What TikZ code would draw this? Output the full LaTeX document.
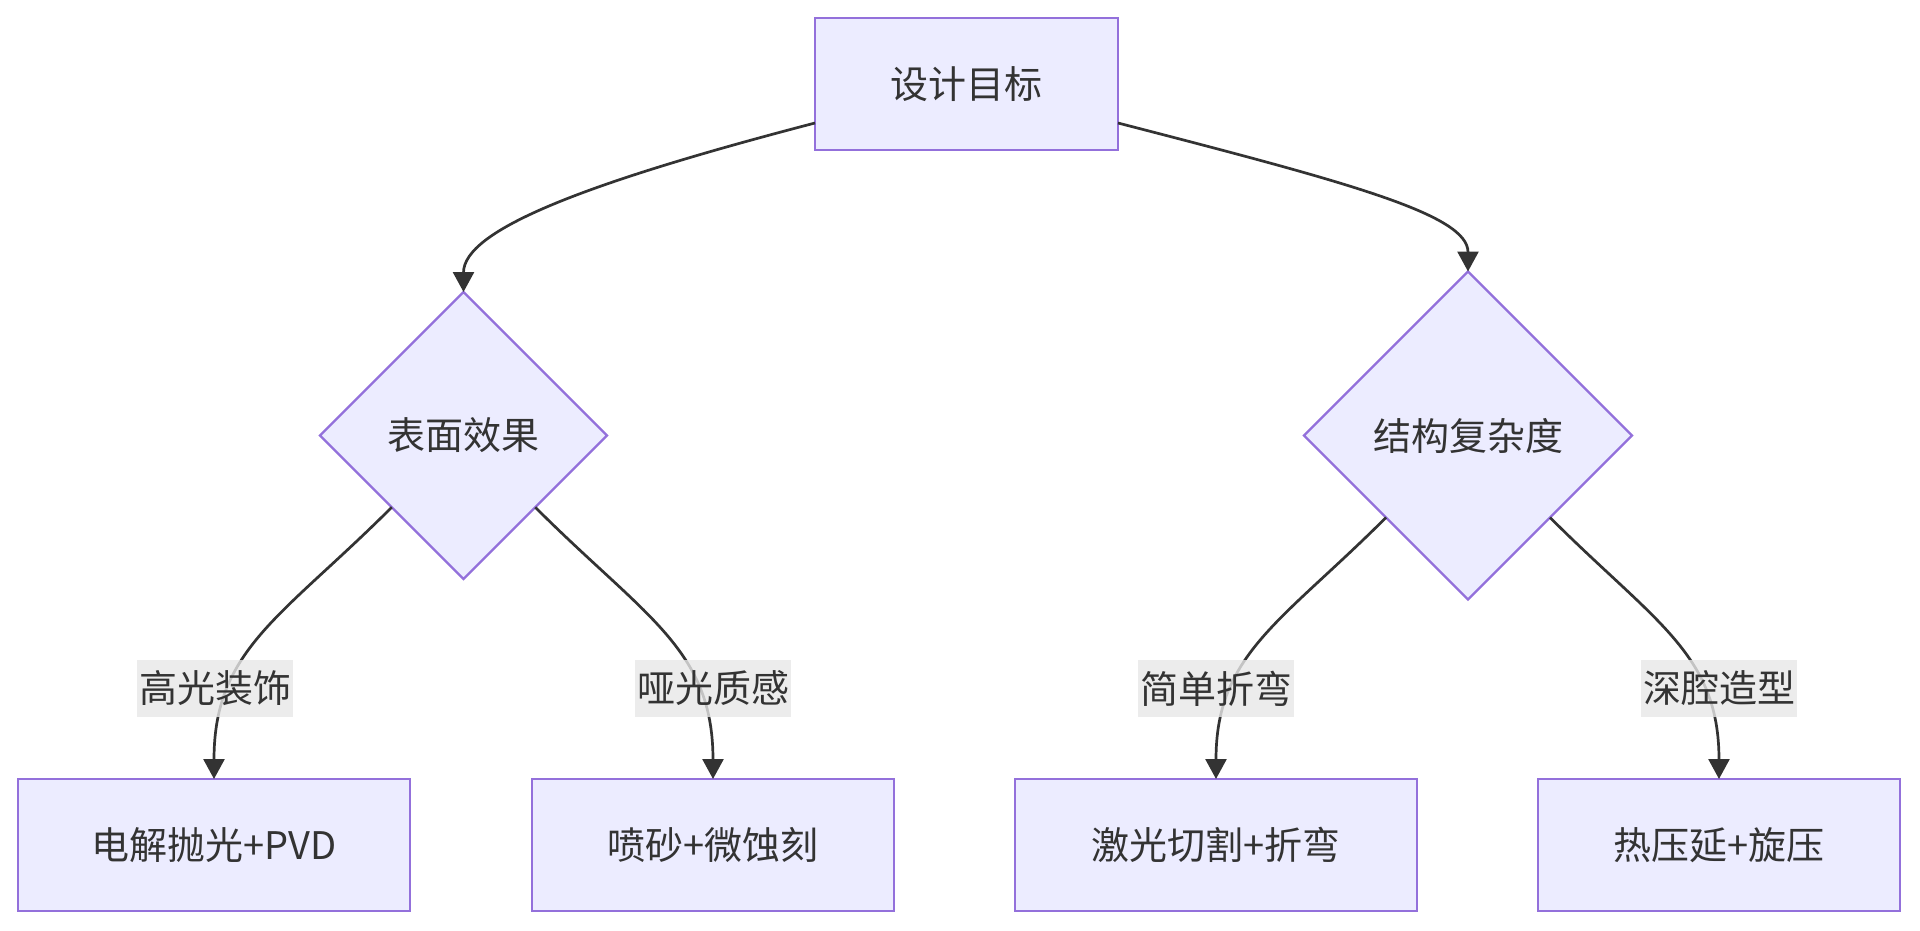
\documentclass[tikz,border=0pt]{standalone}
\usepackage{fontspec}
\setmainfont{Noto Sans CJK SC}
\usetikzlibrary{shapes.geometric,arrows.meta,calc}
\definecolor{mmfill}{HTML}{ECECFF}
\definecolor{mmborder}{HTML}{9370DB}
\definecolor{mmtext}{HTML}{333333}
\definecolor{mmline}{HTML}{333333}
\definecolor{mmlab}{HTML}{E8E8E8}
\begin{document}
\begin{tikzpicture}[x=1pt,y=-1pt,
  txt/.style={text=mmtext,font=\fontsize{38}{46}\selectfont},
  box/.style={txt,draw=mmborder,fill=mmfill,line width=2.4pt,minimum height=132pt,inner sep=0pt,outer sep=0pt},
  dec/.style={txt,diamond,aspect=1,draw=mmborder,fill=mmfill,line width=2.2pt,inner sep=0pt,outer sep=0pt},
  edge/.style={draw=mmline,line width=2.7pt,-{Triangle[length=20pt,width=21pt]}},
  elabel/.style={txt,fill=mmlab,fill opacity=0.8,text opacity=1,inner sep=0pt,minimum width=156pt,minimum height=57pt}]
\fill[white] (0,0) rectangle (1920,931);
\useasboundingbox (0,0) rectangle (1920,931);

\node[box,minimum width=303pt] (top) at (966.5,84) {设计目标};
\node[dec,minimum width=287pt,minimum height=287pt] (d1) at (463.5,435.5) {表面效果};
\node[dec,minimum width=328pt,minimum height=328pt] (d2) at (1468,435.5) {结构复杂度};
\node[box,minimum width=392pt] (b1) at (214,845) {电解抛光+PVD};
\node[box,minimum width=362pt] (b2) at (713,845) {喷砂+微蚀刻};
\node[box,minimum width=402pt] (b3) at (1216,845) {激光切割+折弯};
\node[box,minimum width=362pt] (b4) at (1719,845) {热压延+旋压};

\coordinate (tl) at ($(top.west)+(0,39)$);
\coordinate (tr) at ($(top.east)+(0,39)$);
\draw[edge] (tl) .. controls +(-230,60) and +(0,-62) .. (d1.north);
\draw[edge] (tr) .. controls +(232,60) and +(0,-57) .. (d2.north);

\draw[edge] (d1.south west) .. controls +(-110,110) and +(0,-130) .. (b1.north);
\draw[edge] (d1.south east) .. controls +(110,110) and +(0,-130) .. (b2.north);
\draw[edge] (d2.south west) .. controls +(-105,105) and +(0,-125) .. (b3.north);
\draw[edge] (d2.south east) .. controls +(105,105) and +(0,-125) .. (b4.north);

\node[elabel] (l1) at (215,688.5) {高光装饰};
\node[elabel] (l2) at (713,688.5) {哑光质感};
\node[elabel] (l3) at (1216,688.5) {简单折弯};
\node[elabel] (l4) at (1719,688.5) {深腔造型};
\end{tikzpicture}
\end{document}
